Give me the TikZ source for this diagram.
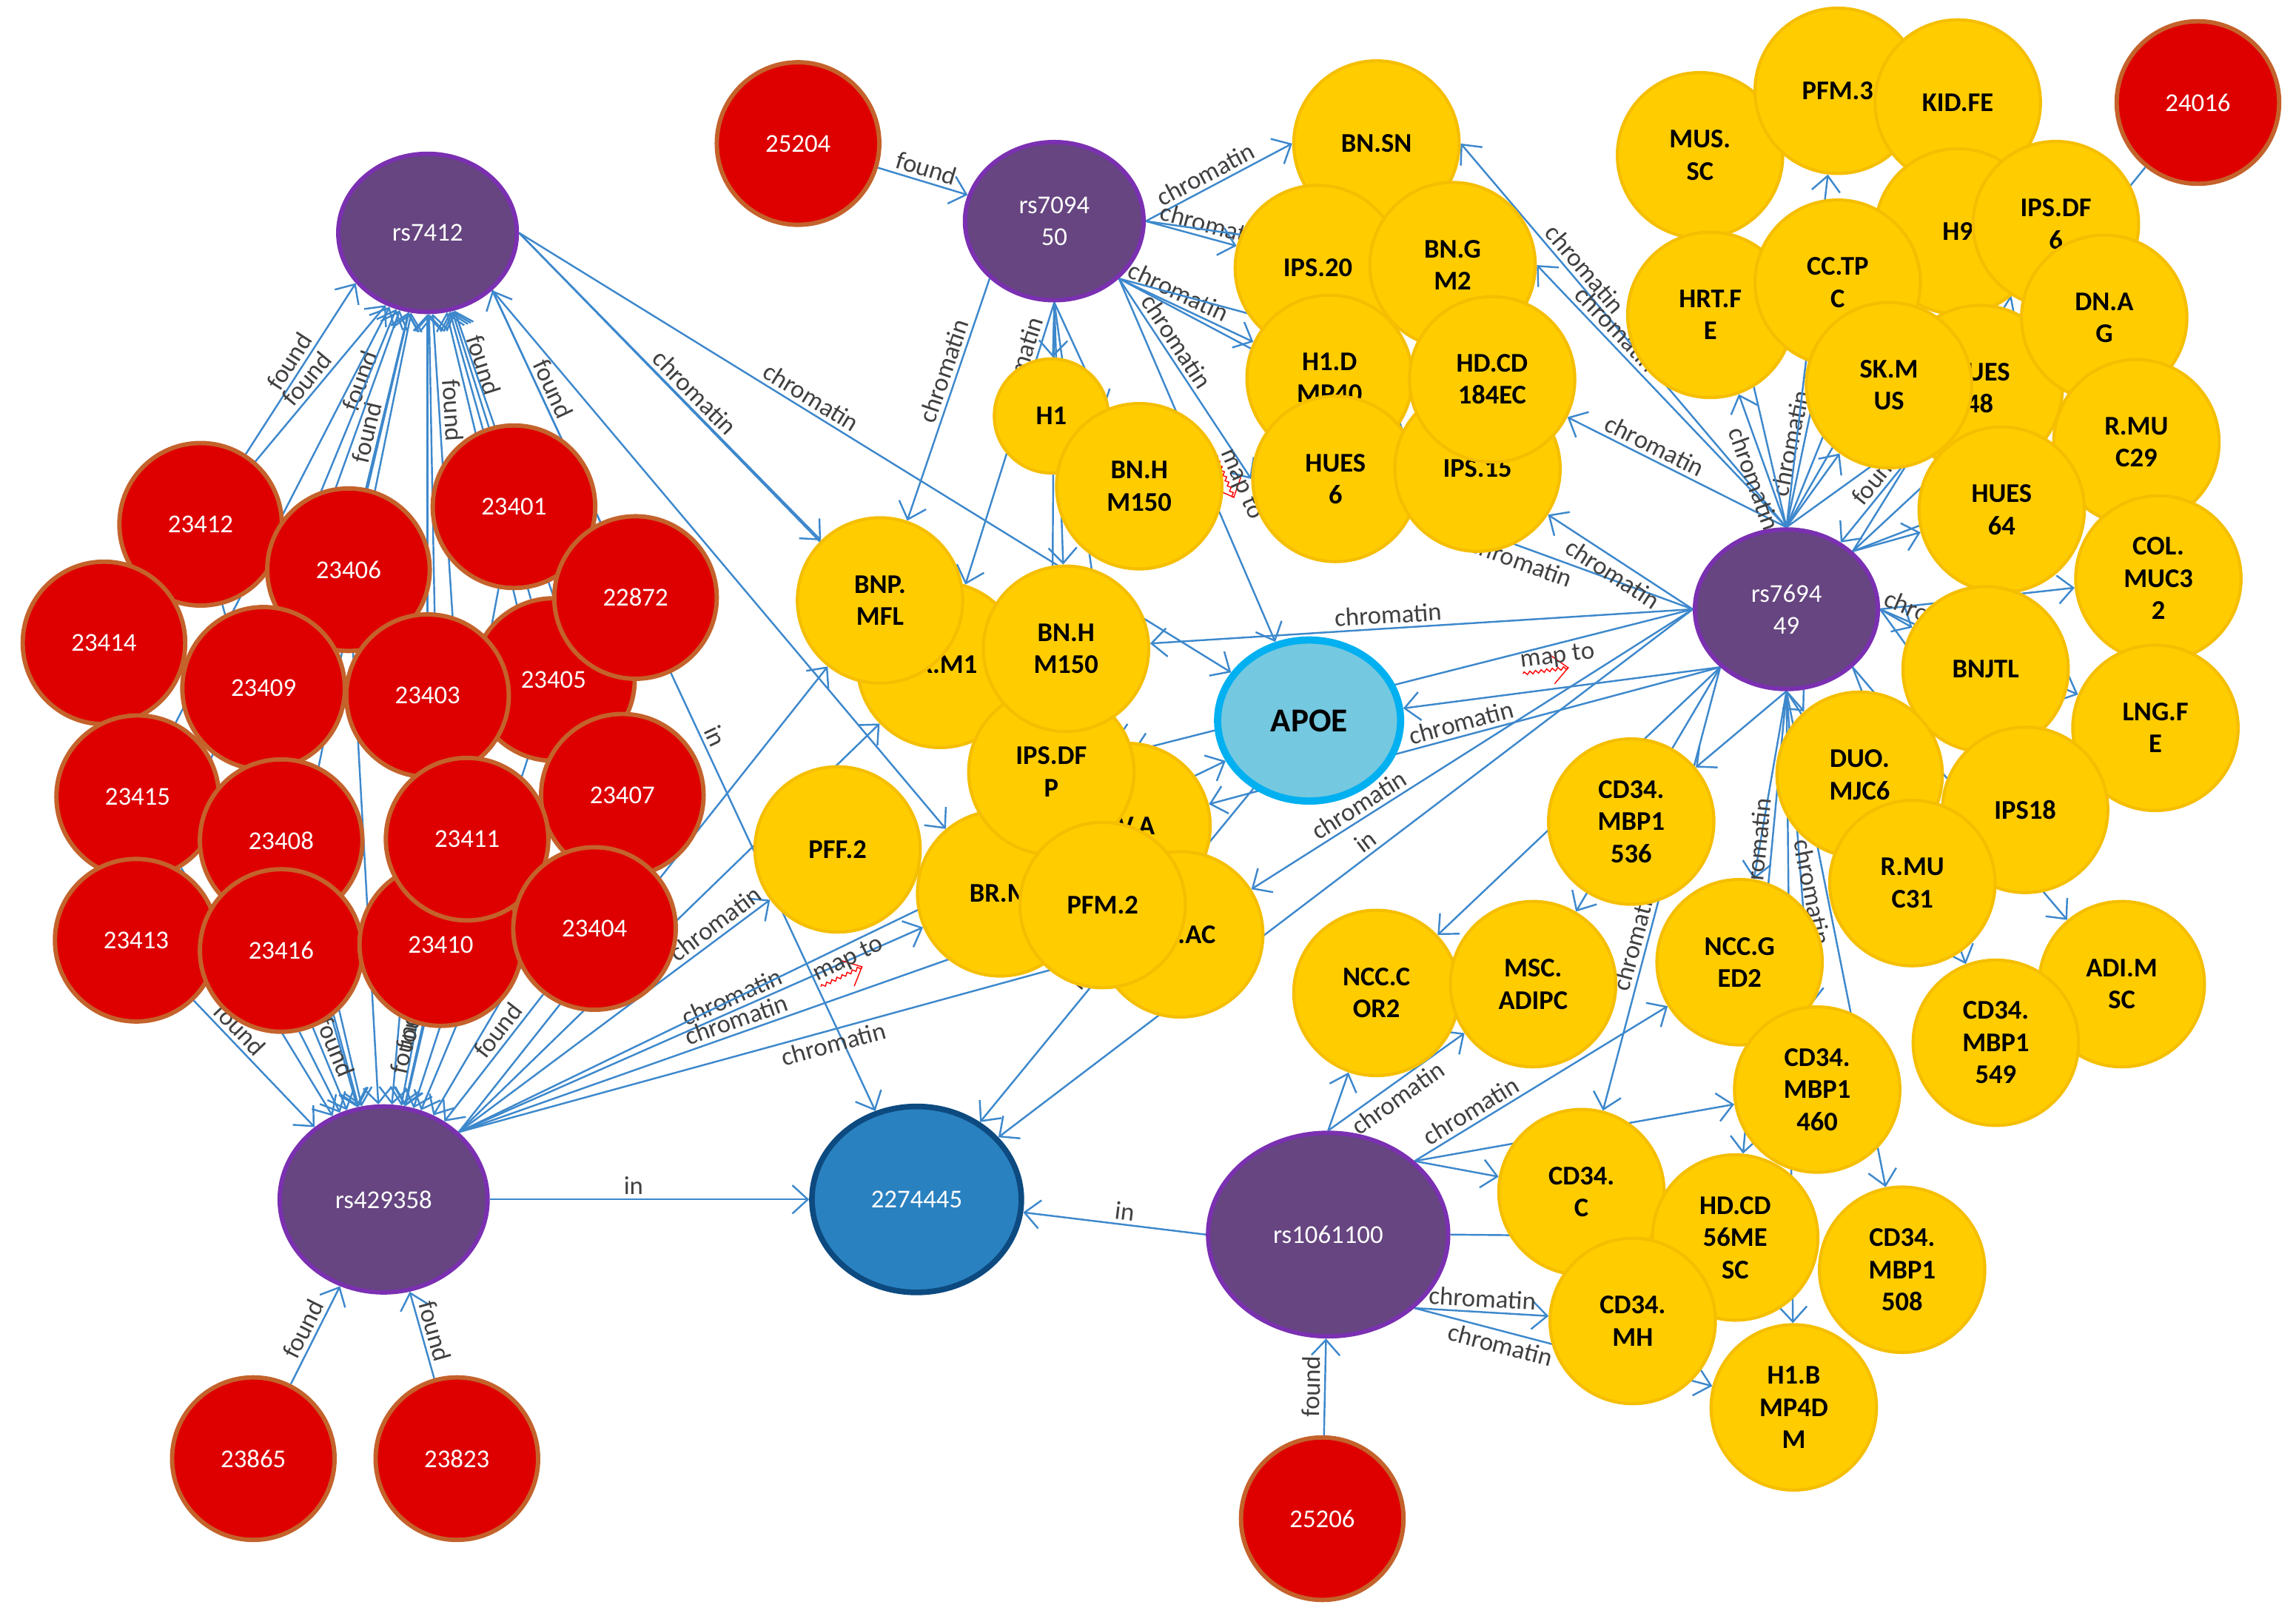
\documentclass[tikz,border=0pt]{standalone}
\usepackage{fontspec}
\setmainfont{Carlito}
\usetikzlibrary{shapes.geometric,arrows.meta,backgrounds,decorations.pathmorphing}
\definecolor{studyred}{HTML}{DE0000}
\definecolor{studyrim}{HTML}{C4622B}
\definecolor{snpfill}{HTML}{664580}
\definecolor{snprim}{HTML}{7A30B0}
\definecolor{tissuefill}{HTML}{FFCC00}
\definecolor{tissuerim}{HTML}{F5BE00}
\definecolor{genefill}{HTML}{74C8E0}
\definecolor{generim}{HTML}{00B0F0}
\definecolor{regionfill}{HTML}{2A81C0}
\definecolor{regionrim}{HTML}{0C4A80}
\definecolor{edgeblue}{HTML}{3D88CC}
\definecolor{lblgray}{HTML}{404040}
\newcommand{\maplabel}{\rlap{\tikz[baseline=0pt]\draw[red,line width=0.4pt,decorate,decoration={zigzag,amplitude=0.6pt,segment length=2.2pt}] (0pt,-2.4pt) -- (18pt,-2.4pt);}map to}
\begin{document}
\begin{tikzpicture}[x=0.02cm,y=-0.02cm]
	\tikzset{study/.style={circle,draw=studyrim,line width=1.7pt,fill=studyred,minimum size=2.22cm,inner sep=0pt,text=white,font=\fontsize{10}{12}\selectfont},
		snp/.style={ellipse,draw=snprim,line width=1.7pt,fill=snpfill,minimum width=2.44cm,minimum height=2.16cm,inner sep=0pt,align=center,text=white,font=\fontsize{10}{12.5}\selectfont},
		tissue/.style={circle,draw=tissuerim,line width=1.2pt,fill=tissuefill,minimum size=2.26cm,inner sep=0pt,align=center,font=\bfseries\fontsize{10.5}{12.5}\selectfont},
		link/.style={draw=edgeblue,line width=0.7pt,-{Straight Barb[length=6pt,width=11pt]}},
		lbl/.style={sloped,above,inner sep=1.5pt,text=lblgray,font=\fontsize{10}{12}\selectfont}}
	\useasboundingbox (0,0) rectangle (1568,1103);
	%Studies
	\node[study] (r25204) at (545,98) {25204};
	\node[study] (r24016) at (1501,70) {24016};
	\node[study] (r23412) at (137,358) {23412};
	\node[study] (r23414) at (71,439) {23414};
	\node[study] (r23406) at (238,389) {23406};
	\node[study] (r23401) at (351,346) {23401};
	\node[study] (r23409) at (180,470) {23409};
	\node[study] (r23405) at (378,464) {23405};
	\node[study] (r23403) at (292,475) {23403};
	\node[study] (r22872) at (434,408) {22872};
	\node[study] (r23415) at (94,544) {23415};
	\node[study] (r23408) at (192,574) {23408};
	\node[study] (r23407) at (425,543) {23407};
	\node[study] (r23413) at (93,642) {23413};
	\node[study] (r23416) at (192,649) {23416};
	\node[study] (r23410) at (301,645) {23410};
	\node[study] (r23411) at (319,573) {23411};
	\node[study] (r23404) at (406,634) {23404};
	\node[study] (r23865) at (173,996) {23865};
	\node[study] (r23823) at (312,996) {23823};
	\node[study] (r25206) at (903,1037) {25206};
	%SNPs, gene and region
	\node[snp] (rs7412) at (292,159) {rs7412};
	\node[snp] (rs709450) at (720,151) {rs7094\\50};
	\node[snp,minimum width=2.5cm,minimum height=2.18cm] (rs769449) at (1220,416) {rs7694\\49};
	\node[snp,minimum width=2.84cm,minimum height=2.54cm] (rs429358) at (262,819) {rs429358};
	\node[snp,minimum width=3.28cm,minimum height=2.78cm] (rs1061100) at (907,843) {rs1061100};
	\node[ellipse,draw=generim,line width=2.8pt,fill=genefill,minimum width=2.5cm,minimum height=2.2cm,font=\bfseries\fontsize{13}{15}\selectfont] (apoe) at (894,492) {APOE};
	\node[ellipse,draw=regionrim,line width=2.2pt,fill=regionfill,minimum width=2.86cm,minimum height=2.54cm,text=white,font=\fontsize{10}{12}\selectfont] (g2274445) at (626,819) {2274445};
	%Cell types, top middle
	\node[tissue] (bnsn) at (940,98) {BN.SN};
	\node[tissue] (ips20) at (900,183) {IPS.20};
	\node[tissue] (bngm2) at (992,181) {BN.G\\M2};
	\node[tissue] (h1dmp40) at (908,258) {H1.D\\MP40};
	\node[tissue] (hues6) at (912,327) {HUES\\6};
	\node[tissue] (ips15) at (1009,320) {IPS.15};
	\node[tissue] (hdcd184ec) at (1019,259) {HD.CD\\184EC};
	%Cell types, top right
	\node[tissue] (mussc) at (1161,106) {MUS.\\SC};
	\node[tissue] (hrtfe) at (1168,215) {HRT.F\\E};
	\node[tissue] (pfm3) at (1255,62) {PFM.3};
	\node[tissue] (kidfe) at (1337,70) {KID.FE};
	\node[tissue] (h9) at (1337,158) {H9};
	\node[tissue] (ipsdf6) at (1404,153) {IPS.DF\\6};
	\node[tissue] (cctpc) at (1255,193) {CC.TP\\C};
	\node[tissue] (hues48) at (1352,265) {HUES\\48};
	\node[tissue] (dnag) at (1437,217) {DN.A\\G};
	\node[tissue] (skmus) at (1290,263) {SK.M\\US};
	\node[tissue] (rmuc29) at (1459,302) {R.MU\\C29};
	\node[tissue] (hues64) at (1367,348) {HUES\\64};
	\node[tissue] (colmuc32) at (1474,395) {COL.\\MUC3\\2};
	\node[tissue] (bnjtl) at (1356,457) {BNJTL};
	\node[tissue] (lngfe) at (1472,497) {LNG.F\\E};
	\node[tissue] (duomjc6) at (1270,529) {DUO.\\MJC6};
	\node[tissue] (ips18) at (1383,553) {IPS18};
	\node[tissue] (rmuc31) at (1306,603) {R.MU\\C31};
	\node[tissue] (adimsc) at (1449,672) {ADI.M\\SC};
	\node[tissue] (cd34mbp1549) at (1363,712) {CD34.\\MBP1\\549};
	%Cell types, bottom right
	\node[tissue] (cd34mbp1536) at (1114,561) {CD34.\\MBP1\\536};
	\node[tissue] (ncccor2) at (940,678) {NCC.C\\OR2};
	\node[tissue] (mscadipc) at (1047,672) {MSC.\\ADIPC};
	\node[tissue] (nccged2) at (1188,657) {NCC.G\\ED2};
	\node[tissue] (cd34mbp1460) at (1241,744) {CD34.\\MBP1\\460};
	\node[tissue] (cd34c) at (1080,814) {CD34.\\C};
	\node[tissue] (hdcd56mesc) at (1185,845) {HD.CD\\56ME\\SC};
	\node[tissue] (cd34mh) at (1115,902) {CD34.\\MH};
	\node[tissue] (cd34mbp1508) at (1299,867) {CD34.\\MBP1\\508};
	\node[tissue] (h1bmp4dm) at (1225,961) {H1.B\\MP4D\\M};
	%Cell types, middle
	\node[tissue] (xm1) at (642,454) {XX.M1};
	\node[tissue] (bnpmfl) at (601,410) {BNP.\\MFL};
	\node[tissue] (va) at (770,564) {UV.A};
	\node[tissue] (ac) at (806,638) {BN.AC};
	\node[tissue] (brm) at (683,610) {BR.M};
	\node[tissue] (ipsdfp) at (718,527) {IPS.DF\\P};
	\node[tissue] (bnhm150b) at (728,443) {BN.H\\M150};
	\node[tissue] (pfm2) at (753,618) {PFM.2};
	\node[tissue,minimum size=1.56cm] (h1) at (718,284) {H1};
	\node[tissue] (bnhm150a) at (778,332) {BN.H\\M150};
	\node[tissue] (pff2) at (572,580) {PFF.2};
	%Links
	\begin{pgfonlayer}{background}
		\draw[link] (r25204) -- node[lbl]{found} (rs709450);
		\draw[link] (r24016) -- node[lbl,pos=0.85]{found} (rs769449);
		\draw[link] (r25206) -- node[lbl]{found} (rs1061100);
		\draw[link] (r23865) -- node[lbl]{found} (rs429358);
		\draw[link] (r23823) -- node[lbl]{found} (rs429358);
		\draw[link] (r23412) -- node[lbl,pos=0.5]{found} (rs7412.215);
		\draw[link] (r23414) -- node[lbl,pos=0.7]{found} (rs7412.240);
		\draw[link] (r23406) -- node[lbl,pos=0.3]{found} (rs7412);
		\draw[link] (r23409) -- node[lbl,pos=0.75]{found} (rs7412);
		\draw[link] (r23403) -- (rs7412);
		\draw[link] (r23401) -- node[lbl,pos=0.5]{found} (rs7412);
		\draw[link] (r22872) -- node[lbl,pos=0.55]{found} (rs7412.south east);
		\draw[link] (r23405) -- (rs7412);
		\draw[link] (r23415) -- (rs7412);
		\draw[link] (r23408) -- (rs7412);
		\draw[link] (r23411) -- node[lbl,pos=0.78]{found} (rs7412);
		\draw[link] (r23407) -- (rs7412);
		\draw[link] (r23413) -- (rs7412);
		\draw[link] (r23416) -- (rs7412);
		\draw[link] (r23410) -- (rs7412);
		\draw[link] (r23404) -- (rs7412);
		\draw[link] (r23412) -- (rs429358);
		\draw[link] (r23414) -- (rs429358);
		\draw[link] (r23406) -- (rs429358);
		\draw[link] (r23409) -- (rs429358);
		\draw[link] (r23403) -- (rs429358);
		\draw[link] (r23401) -- (rs429358);
		\draw[link] (r22872) -- (rs429358);
		\draw[link] (r23405) -- (rs429358);
		\draw[link] (r23415) -- (rs429358);
		\draw[link] (r23408) -- (rs429358);
		\draw[link] (r23411) -- node[lbl,pos=0.55]{found} (rs429358);
		\draw[link] (r23407) -- (rs429358);
		\draw[link] (r23413) -- node[lbl,pos=0.3]{found} (rs429358);
		\draw[link] (r23416) -- node[lbl,pos=0.3]{found} (rs429358);
		\draw[link] (r23410) -- node[lbl,pos=0.25]{found} (rs429358);
		\draw[link] (r23404) -- node[lbl,pos=0.35]{found} (rs429358);
		%rs7412
		\draw[link] (rs7412.east) -- node[lbl,pos=0.55]{chromatin} (bnpmfl);
		\draw[link] (rs7412.east) -- node[lbl,pos=0.4]{chromatin} (apoe);
		\draw[link] (rs7412.east) -- (xm1);
		\draw[link] (rs7412.south east) -- (brm);
		\draw[link] (rs7412.south east) -- node[lbl,pos=0.55]{in} (g2274445);
		%rs709450
		\draw[link] (rs709450.east) -- node[lbl,pos=0.45]{chromatin} (bnsn.west);
		\draw[link] (rs709450.east) -- node[lbl,pos=0.7]{chromatin} (ips20);
		\draw[link] (rs709450.east) -- (bngm2);
		\draw[link] (rs709450.south east) -- node[lbl,pos=0.4]{chromatin} (h1dmp40);
		\draw[link] (rs709450.south east) -- (hdcd184ec);
		\draw[link] (rs709450.south east) -- node[lbl,pos=0.35]{chromatin} (hues6.west);
		\draw[link] (rs709450.south east) -- (ips15);
		\draw[link] (rs709450.south east) -- node[lbl,pos=0.6]{\maplabel} (apoe);
		\draw[link] (rs709450.south) -- (h1);
		\draw[link] (rs709450.south) -- (bnhm150a);
		\draw[link] (rs709450.south) -- (bnhm150b);
		\draw[link] (rs709450.south) -- (ipsdfp);
		\draw[link] (rs709450.south) -- (va);
		\draw[link] (rs709450.south) -- node[lbl,pos=0.25]{chromatin} (xm1);
		\draw[link] (rs709450.south west) -- node[lbl,pos=0.4]{chromatin} (bnpmfl);
		%rs429358
		\draw[link] (rs429358.north east) -- node[lbl,pos=0.85]{chromatin} (pff2);
		\draw[link] (rs429358.north east) -- (bnpmfl);
		\draw[link] (rs429358.north east) -- (xm1);
		\draw[link] (rs429358.north east) -- node[lbl,pos=0.6]{chromatin} (brm);
		\draw[link] (rs429358.north east) -- node[lbl,pos=0.5]{chromatin} (pfm2);
		\draw[link] (rs429358.north east) -- node[lbl,below,pos=0.5]{\maplabel} (apoe);
		\draw[link] (rs429358.north east) -- node[lbl,below,pos=0.58]{chromatin} (ac);
		\draw[link] (rs429358.east) -- node[lbl,pos=0.45]{in} (g2274445);
		%rs769449
		\draw[link] (rs769449.west) -- node[lbl,pos=0.56]{chromatin} (bnhm150b);
		\draw[link] (rs769449.south west) -- node[lbl,pos=0.5]{\maplabel} (apoe);
		\draw[link] (rs769449.south west) -- node[lbl,pos=0.5]{chromatin} (va);
		\draw[link] (rs769449.west) -- node[lbl,pos=0.74]{chromatin} (ac);
		\draw[link] (rs769449.west) -- node[lbl,below,pos=0.6]{chromatin} (hues6);
		\draw[link] (rs769449.west) -- node[lbl,below,pos=0.5]{chromatin} (ips15);
		\draw[link] (rs769449.west) -- (ipsdfp);
		\draw[link] (rs769449.west) -- node[lbl,pos=0.46]{in} (g2274445);
		\draw[link] (rs769449.south west) -- (ncccor2);
		\draw[link] (rs769449.south west) -- (mscadipc);
		\draw[link] (rs769449.north) -- node[lbl,pos=0.65]{chromatin} (bnsn.east);
		\draw[link] (rs769449.north) -- node[lbl,pos=0.72]{chromatin} (bngm2.east);
		\draw[link] (rs769449.north) -- node[lbl,pos=0.63]{chromatin} (hdcd184ec);
		\draw[link] (rs769449.north) -- node[lbl,below,pos=0.4]{chromatin} (hrtfe);
		\draw[link] (rs769449.north) -- node[lbl,pos=0.5]{chromatin} (cctpc);
		\draw[link] (rs769449.north) -- (mussc);
		\draw[link] (rs769449.north) -- (pfm3);
		\draw[link] (rs769449.north) -- (kidfe);
		\draw[link] (rs769449.north) -- (h9);
		\draw[link] (rs769449.north) -- (skmus);
		\draw[link] (rs769449.north) -- (hues48);
		\draw[link] (rs769449.north east) -- (ipsdf6);
		\draw[link] (rs769449.north east) -- (dnag);
		\draw[link] (rs769449.north east) -- (rmuc29);
		\draw[link] (rs769449.north east) -- (hues64);
		\draw[link] (rs769449.east) -- (colmuc32);
		\draw[link] (rs769449.east) -- (bnjtl);
		\draw[link] (rs769449.east) -- node[lbl,pos=0.25]{chromatin} (lngfe);
		\draw[link] (rs769449.east) -- (ips18);
		\draw[link] (rs769449.south east) -- (adimsc);
		\draw[link] (rs769449.south east) -- (cd34mbp1549);
		\draw[link] (rs769449.south) -- (cd34mbp1536);
		\draw[link] (rs769449.south) -- (nccged2);
		\draw[link] (rs769449.south) -- (cd34mbp1460);
		\draw[link] (rs769449.south west) -- node[lbl,pos=0.62]{chromatin} (cd34c);
		\draw[link] (rs769449.south) -- node[lbl,pos=0.35]{chromatin} (hdcd56mesc);
		\draw[link] (rs769449.south) -- node[lbl,below,pos=0.4]{chromatin} (cd34mbp1508);
		\draw[link] (rs769449.south) -- (h1bmp4dm);
		\draw[link] (rs769449.south) -- (duomjc6);
		\draw[link] (rs769449.south) -- (rmuc31);
		%rs1061100
		\draw[link] (rs1061100.north) -- (ncccor2);
		\draw[link] (rs1061100.north) -- node[lbl,below,pos=0.45]{chromatin} (mscadipc);
		\draw[link] (rs1061100.north east) -- node[lbl,pos=0.25]{chromatin} (nccged2);
		\draw[link] (rs1061100.north east) -- (cd34mbp1460);
		\draw[link] (rs1061100.north east) -- (cd34c);
		\draw[link] (rs1061100.east) -- (hdcd56mesc);
		\draw[link] (rs1061100.south east) -- node[lbl,pos=0.5]{chromatin} (cd34mh);
		\draw[link] (rs1061100.south east) -- node[lbl,below,pos=0.3]{chromatin} (h1bmp4dm);
		\draw[link] (rs1061100.west) -- node[lbl,pos=0.45]{in} (g2274445);
		%APOE
		\draw[link] (apoe) -- node[lbl,pos=0.5]{intersects} (g2274445);
	\end{pgfonlayer}
\end{tikzpicture}
\end{document}
